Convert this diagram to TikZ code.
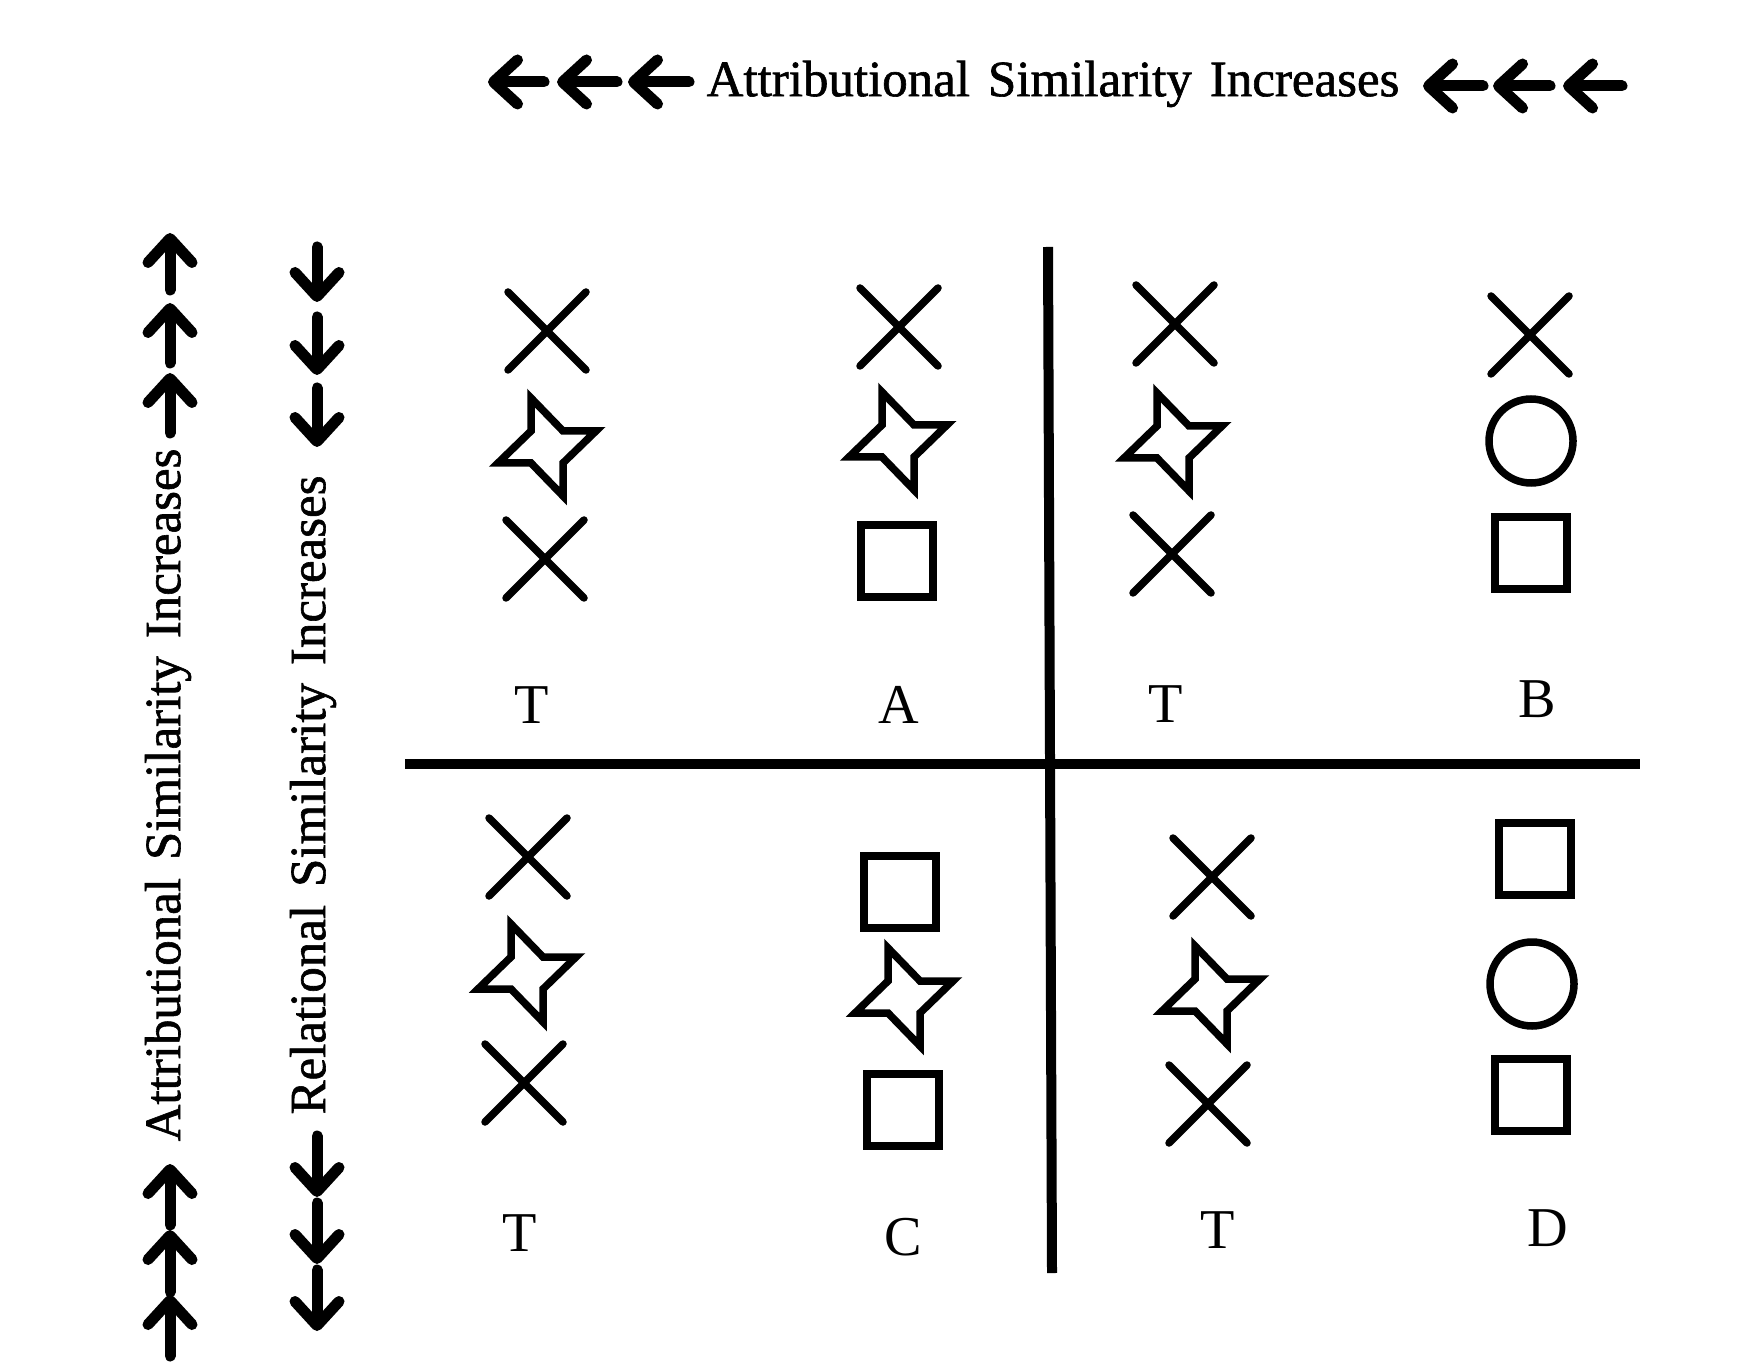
\documentclass[tikz,border=0pt]{standalone}
\usepackage{fontspec}
\setmainfont{Liberation Serif}
\newfontfamily\scanfont{Liberation Serif}[BoldFont={Liberation Serif}, BoldFeatures={FakeBold=1.2}]
\usetikzlibrary{arrows.meta}

% Figures drawn in the four panels
\newcommand{\crossmark}[1]{\draw[figure line, line cap=round] (#1) +(-39,-39) -- +(39,39) (#1) +(39,-39) -- +(-39,39);}
\newcommand{\boxmark}[1]{\draw[figure line] (#1) +(-36,-36) rectangle +(36,36);}
\newcommand{\ringmark}[1]{\draw[figure line] (#1) circle[radius=42];}
\newcommand{\pinstar}[1]{\draw[figure line] (#1) ++(-16,-49) -- ++(32,33) -- ++(33,0) -- ++(-33,32) -- ++(0,33) -- ++(-32,-33) -- ++(-33,0) -- ++(33,-32) -- cycle;}

\tikzset{
    figure line/.style={line width=0.75mm, line join=miter},
    divider/.style={line width=1mm},
    side arrow/.style={line width=1.1mm, line cap=round, -{Straight Barb[round, length=2.4mm, width=4.4mm]}},
    caption text/.style={inner sep=0pt, font={\scanfont\bfseries\fontsize{14.5}{17}\selectfont\spaceskip=1.8mm\relax}},
    letter/.style={inner sep=0pt, font={\scanfont\fontsize{16}{19}\selectfont}}
}

\begin{document}
\begin{tikzpicture}[x=0.1mm, y=-0.1mm]
        \useasboundingbox (0,0) rectangle (1746,1368);

        % Define axis captions
        \node[caption text] (attrtop) at (1053,84) {Attributional Similarity Increases};
        \node[caption text, rotate=90] (attrside) at (168,795) {Attributional Similarity Increases};
        \node[caption text, rotate=90] (relside) at (313,795) {Relational Similarity Increases};

        % Draw arrow rows
        \foreach \tail/\tip in {544/488, 617/557, 689/628}
            \draw[side arrow] (\tail,82) -- (\tip,82);
        \foreach \tail/\tip in {1483/1423, 1550/1493, 1622/1563}
            \draw[side arrow] (\tail,86) -- (\tip,86);
        \foreach \tail/\tip in {290/233, 363/303, 433/373, 1225/1164, 1292/1230, 1356/1295}
            \draw[side arrow] (170,\tail) -- (170,\tip);
        \foreach \tail/\tip in {247/302, 317/375, 388/447, 1136/1197, 1203/1264, 1270/1331}
            \draw[side arrow] (317,\tail) -- (317,\tip);

        % Draw dividers
        \draw[divider] (1048,247) -- (1052,1273);
        \draw[divider] (405,764) -- (1640,764);

        % Upper left panel
        \crossmark{547,331}
        \pinstar{547,447}
        \crossmark{545,559}
        \crossmark{899,327}
        \pinstar{898,441}
        \boxmark{897,561}
        \node[letter] (t1) at (532,705) {T};
        \node[letter] (a) at (899,705) {A};

        % Upper right panel
        \crossmark{1175,324}
        \pinstar{1173,442}
        \crossmark{1172,554}
        \crossmark{1530,335}
        \ringmark{1531,441}
        \boxmark{1531,553}
        \node[letter] (t2) at (1166,704) {T};
        \node[letter] (b) at (1537,699) {B};

        % Lower left panel
        \crossmark{528,857}
        \pinstar{527,973}
        \crossmark{524,1083}
        \boxmark{900,892}
        \pinstar{904,997}
        \boxmark{903,1110}
        \node[letter] (t3) at (520,1233) {T};
        \node[letter] (c) at (903,1237) {C};

        % Lower right panel
        \crossmark{1212,877}
        \pinstar{1211,995}
        \crossmark{1208,1104}
        \boxmark{1535,859}
        \ringmark{1532,984}
        \boxmark{1531,1095}
        \node[letter] (t4) at (1218,1230) {T};
        \node[letter] (d) at (1548,1228) {D};
    \end{tikzpicture}
\end{document}
